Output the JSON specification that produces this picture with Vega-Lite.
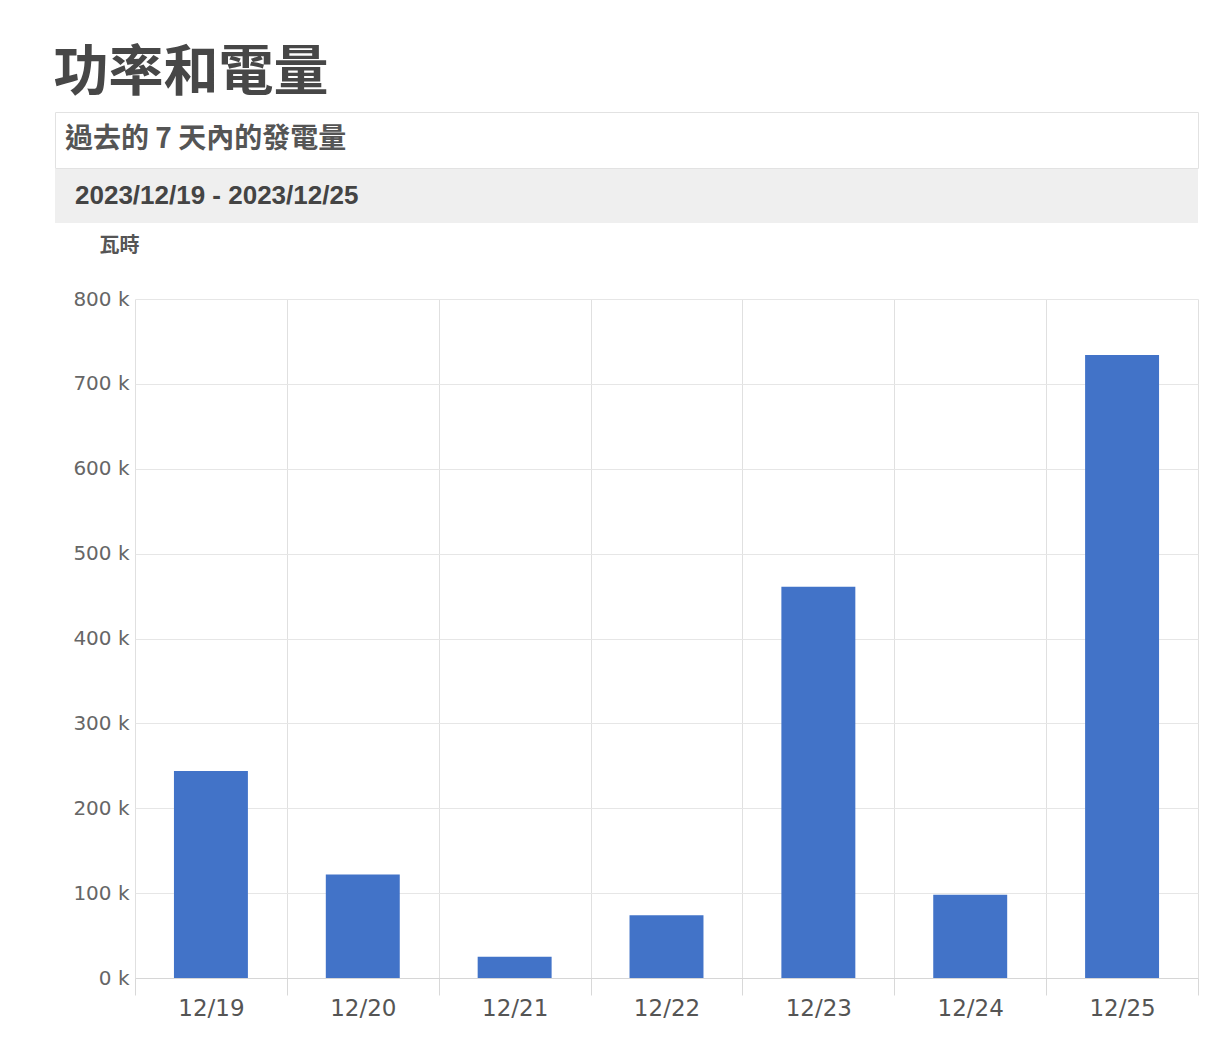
{
  "$schema": "https://vega.github.io/schema/vega-lite/v6.json",
  "background": "#ffffff",
  "padding": {"left": 53, "top": 45, "right": 0, "bottom": 0},
  "title": {"text": "功率和電量", "anchor": "start", "frame": "bounds", "fontSize": 55, "font": "Noto Sans CJK TC", "fontWeight": "bold", "color": "#474747", "dx": -1, "offset": 10},
  "spacing": 12,
  "vconcat": [
    {
      "spacing": 0,
      "vconcat": [
        {
          "data": {"values": [{"caption": "過去的 7 天內的發電量"}]},
          "width": 1143,
          "height": 56,
          "view": {"fill": "#ffffff", "stroke": "#e2e2e2"},
          "mark": {"type": "text", "align": "left", "baseline": "middle", "font": "Noto Sans CJK TC", "fontWeight": "bold", "fontSize": 28, "color": "#555555"},
          "encoding": {"text": {"field": "caption"}, "x": {"value": 10}}
        },
        {
          "data": {"values": [{"range": "2023/12/19 - 2023/12/25"}]},
          "width": 1143,
          "height": 54,
          "view": {"fill": "#efefef", "stroke": null},
          "mark": {"type": "text", "align": "left", "baseline": "middle", "font": "Liberation Sans", "fontWeight": "bold", "fontSize": 26, "color": "#444444"},
          "encoding": {"text": {"field": "range"}, "x": {"value": 20}}
        }
      ]
    },
    {
      "data": {"values": [
        {"date": "12/19", "energy": 244000},
        {"date": "12/20", "energy": 122000},
        {"date": "12/21", "energy": 25000},
        {"date": "12/22", "energy": 74000},
        {"date": "12/23", "energy": 461000},
        {"date": "12/24", "energy": 98000},
        {"date": "12/25", "energy": 734000}
      ]},
      "width": 1143,
      "height": 679,
      "view": {"fill": "#ffffff", "stroke": null},
      "mark": {"type": "bar", "color": "#4273c8", "width": {"band": 0.487}},
      "encoding": {
        "x": {
          "field": "date", "type": "ordinal", "sort": null,
          "scale": {"paddingInner": 0, "paddingOuter": 0, "range": [80, 1143]},
          "axis": {"title": null, "labelAngle": 0, "tickBand": "extent", "grid": true, "gridColor": "#e0e0e0", "ticks": true, "tickSize": 17, "tickColor": "#d8d8d8", "domainColor": "#d6d6d6", "labelFont": "DejaVu Sans", "labelFontSize": 23, "labelColor": "#555555", "labelPadding": 2}
        },
        "y": {
          "field": "energy", "type": "quantitative",
          "scale": {"domain": [0, 800000]},
          "axis": {"offset": -80, "values": [0, 100000, 200000, 300000, 400000, 500000, 600000, 700000, 800000], "labelExpr": "(datum.value / 1000) + ' k'", "title": "瓦時", "titleAngle": 0, "titleX": -36, "titleY": -54, "titleAlign": "left", "titleBaseline": "middle", "titleFont": "Noto Sans CJK TC", "titleFontSize": 20, "titleFontWeight": "bold", "titleColor": "#555555", "domain": false, "ticks": false, "labelPadding": 6, "labelFont": "DejaVu Sans", "labelFontSize": 20, "labelColor": "#666666", "gridColor": "#e6e6e6"}
        }
      }
    }
  ]
}
